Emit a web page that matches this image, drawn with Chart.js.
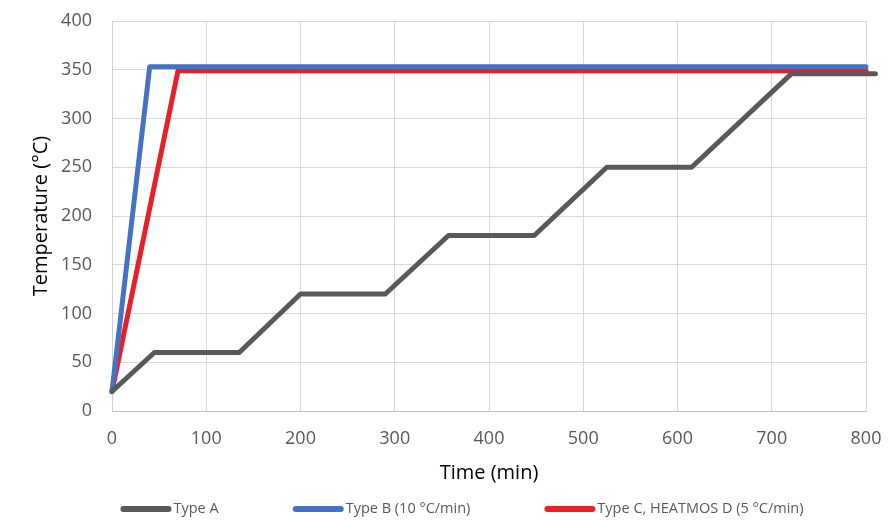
<!DOCTYPE html>
<html>
<head>
<meta charset="utf-8">
<script src="https://cdn.jsdelivr.net/npm/chart.js@4/dist/chart.umd.min.js"></script>
<style>
  html, body { margin: 0; padding: 0; background: #fff; }
  #wrap { width: 890px; height: 520px; position: relative; }
</style>
</head>
<body>
<div id="wrap"><canvas id="c"></canvas></div>
<script>
// ---- Data ----
const seriesLabels = ["Type A", "Type B (10 °C/min)", "Type C, HEATMOS D (5 °C/min)"];
const timeA = [0, 45, 135, 200, 290, 357, 448, 525, 615, 721, 810];
const tempA = [20, 60, 60, 120, 120, 180, 180, 250, 250, 346, 346];
const timeB = [0, 40, 800];
const tempB = [20, 353, 353];
const timeC = [0, 70, 800];
const tempC = [20, 349, 349];
const xTicks = [0, 100, 200, 300, 400, 500, 600, 700, 800];
const yTicks = [0, 50, 100, 150, 200, 250, 300, 350, 400];
const xTitle = "Time (min)";
const yTitle = "Temperature (°C)";

const colors = ["#595959", "#4472C4", "#E8202A"];
const FONT = "'Open Sans', 'Noto Sans', sans-serif";

function pts(xs, ys) { return xs.map((x, i) => ({ x: x, y: ys[i] })); }

const legendPlugin = {
  id: 'customLegend',
  afterDraw(chart) {
    const ctx = chart.ctx;
    const ds = chart.data.datasets;
    ctx.save();
    ctx.font = "14.5px " + FONT;
    const sw = 51, gap = 2, spacing = 74;
    const widths = ds.map(d => sw + gap + ctx.measureText(d.label).width);
    const total = widths.reduce((a, b) => a + b, 0) + spacing * (ds.length - 1);
    let x = 462 - total / 2;
    const y = 509;
    ds.forEach((d, i) => {
      ctx.strokeStyle = d.borderColor;
      ctx.lineWidth = 6;
      ctx.lineCap = 'round';
      ctx.beginPath();
      ctx.moveTo(x + 3, y);
      ctx.lineTo(x + sw - 3, y);
      ctx.stroke();
      ctx.fillStyle = "#595959";
      ctx.textBaseline = 'middle';
      ctx.textAlign = 'left';
      ctx.fillText(d.label, x + sw + gap, y);
      x += widths[i] + spacing;
    });
    ctx.restore();
  }
};

const mk = (i, xs, ys) => ({
  label: seriesLabels[i],
  data: pts(xs, ys),
  borderColor: colors[i],
  backgroundColor: colors[i],
  borderWidth: 5,
  pointRadius: 0,
  tension: 0,
  borderCapStyle: 'round',
  borderJoinStyle: 'round',
  clip: false
});

new Chart(document.getElementById('c'), {
  type: 'line',
  data: {
    datasets: [mk(0, timeA, tempA), mk(1, timeB, tempB), mk(2, timeC, tempC)]
  },
  plugins: [legendPlugin],
  options: {
    responsive: true,
    maintainAspectRatio: false,
    animation: false,
    layout: { padding: { top: 21, right: 24, bottom: 30, left: 0 } },
    plugins: { legend: { display: false }, tooltip: { enabled: false } },
    scales: {
      x: {
        type: 'linear',
        min: 0, max: 800,
        afterBuildTicks: s => { s.ticks = xTicks.map(v => ({ value: v })); },
        afterFit: s => { s.height = 79; s.paddingLeft = 0; s.paddingRight = 0; },
        grid: { color: '#d9d9d9', lineWidth: 1, drawTicks: false },
        border: { color: '#bfbfbf', width: 1 },
        ticks: { color: '#595959', font: { family: FONT, size: 18 }, padding: 17, maxRotation: 0 },
        title: { display: true, text: xTitle, color: '#000', font: { family: FONT, size: 20 }, padding: { top: 0, bottom: 5 } }
      },
      y: {
        type: 'linear',
        min: 0, max: 400,
        afterBuildTicks: s => { s.ticks = yTicks.map(v => ({ value: v })); },
        afterFit: s => { s.width = 112; s.paddingTop = 0; s.paddingBottom = 0; },
        grid: { color: '#d9d9d9', lineWidth: 1, drawTicks: false },
        border: { color: '#d0d0d0', width: 1 },
        ticks: { color: '#595959', font: { family: FONT, size: 18 }, padding: 20 },
        title: { display: true, text: yTitle, color: '#000', font: { family: FONT, size: 20 }, padding: { top: 29, bottom: 0 } }
      }
    }
  }
});
</script>
</body>
</html>
